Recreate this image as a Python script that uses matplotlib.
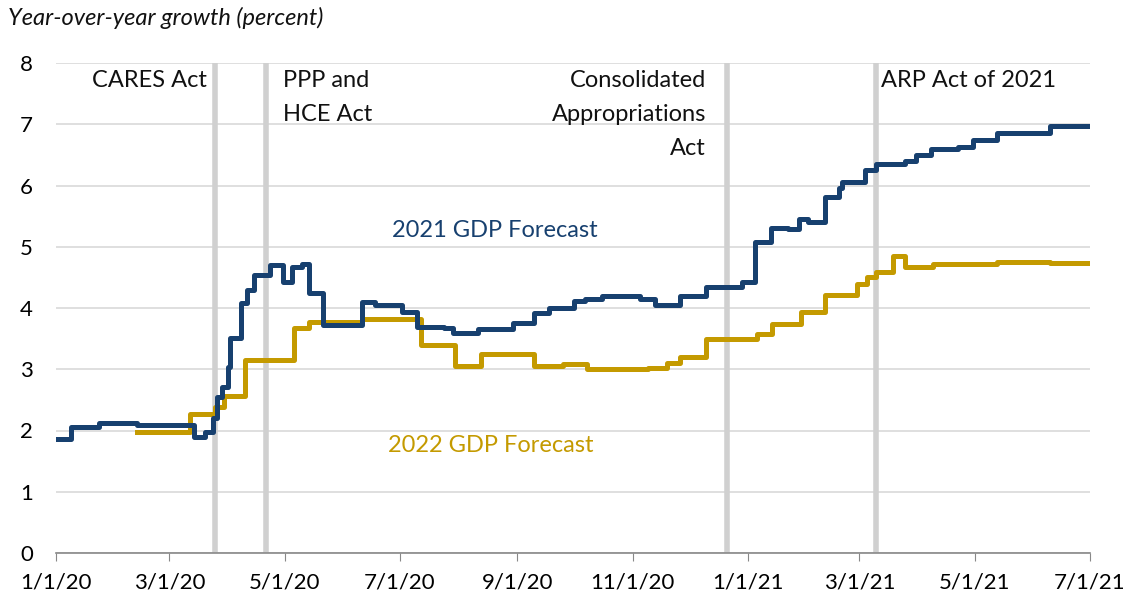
import numpy as np
import pandas as pd
import matplotlib
matplotlib.use("Agg")
import matplotlib.pyplot as plt
import matplotlib.dates as mdates

plt.rcParams['font.family'] = ['Lato', 'DejaVu Sans']

# 2021 GDP forecast: date of change, new value
dates_2021 = ['2020-01-02', '2020-01-09', '2020-01-24', '2020-02-13', '2020-03-14', '2020-03-20',
              '2020-03-24', '2020-03-26', '2020-03-29', '2020-04-01', '2020-04-02', '2020-04-08',
              '2020-04-11', '2020-04-15', '2020-04-23', '2020-04-30', '2020-05-05', '2020-05-10',
              '2020-05-14', '2020-05-21', '2020-06-11', '2020-06-18', '2020-07-02', '2020-07-10',
              '2020-07-24', '2020-07-29', '2020-08-11', '2020-08-30', '2020-09-10', '2020-09-18',
              '2020-10-01', '2020-10-07', '2020-10-16', '2020-11-05', '2020-11-13', '2020-11-26',
              '2020-12-10', '2020-12-29', '2021-01-05', '2021-01-13', '2021-01-22', '2021-01-28',
              '2021-02-02', '2021-02-11', '2021-02-18', '2021-02-20', '2021-03-04', '2021-03-10',
              '2021-03-25', '2021-03-31', '2021-04-08', '2021-04-22', '2021-04-30', '2021-05-13',
              '2021-06-10', '2021-07-01']
gdp_2021 = [1.86, 2.06, 2.12, 2.09, 1.90, 1.98,
            2.20, 2.55, 2.71, 3.04, 3.51, 4.08,
            4.29, 4.54, 4.70, 4.43, 4.67, 4.72,
            4.24, 3.72, 4.10, 4.05, 3.93, 3.69,
            3.67, 3.60, 3.65, 3.76, 3.92, 4.00,
            4.11, 4.14, 4.19, 4.14, 4.05, 4.19,
            4.35, 4.43, 5.08, 5.31, 5.29, 5.45,
            5.41, 5.82, 5.96, 6.06, 6.25, 6.35,
            6.40, 6.50, 6.59, 6.63, 6.74, 6.85,
            6.97, 6.97]

# 2022 GDP forecast
dates_2022 = ['2020-02-13', '2020-03-12', '2020-03-25', '2020-03-30', '2020-04-10', '2020-05-06',
              '2020-05-14', '2020-06-11', '2020-07-12', '2020-07-30', '2020-08-13', '2020-09-10',
              '2020-09-25', '2020-10-08', '2020-11-09', '2020-11-19', '2020-11-26', '2020-12-10',
              '2021-01-06', '2021-01-14', '2021-01-29', '2021-02-11', '2021-02-28', '2021-03-05',
              '2021-03-10', '2021-03-19', '2021-03-25', '2021-04-09', '2021-05-13', '2021-06-10',
              '2021-07-01']
gdp_2022 = [1.97, 2.27, 2.38, 2.56, 3.15, 3.67,
            3.77, 3.82, 3.40, 3.05, 3.25, 3.05,
            3.08, 3.00, 3.02, 3.10, 3.20, 3.49,
            3.58, 3.74, 3.93, 4.21, 4.40, 4.51,
            4.59, 4.85, 4.67, 4.72, 4.75, 4.74,
            4.74]

event_dates = ['2020-03-25', '2020-04-21', '2020-12-21', '2021-03-10']
event_labels = ['CARES Act', 'PPP and\nHCE Act', 'Consolidated\nAppropriations\nAct', 'ARP Act of 2021']

tick_dates = pd.date_range('2020-01-01', '2021-07-01', freq='2MS')
tick_labels = [f"{d.month}/{d.day}/{d.strftime('%y')}" for d in tick_dates]

blue = '#17406F'
gold = '#C49A00'
grey = '#D0D0D0'

fig = plt.figure(figsize=(11.29, 6.03), dpi=100)
ax = fig.add_axes([56/1129, 50/603, (1090-56)/1129, (553-63)/603])

x1 = pd.to_datetime(dates_2021)
x2 = pd.to_datetime(dates_2022)
ax.plot(x1, gdp_2021, drawstyle='steps-post', color=blue, lw=3.6, solid_joinstyle='round', zorder=4)
ax.plot(x2, gdp_2022, drawstyle='steps-post', color=gold, lw=3.6, solid_joinstyle='round', zorder=3)

for d in event_dates:
    ax.axvline(pd.Timestamp(d), color=grey, lw=4, zorder=2)

# event labels, offsets in pixels from the line
ha = ['right', 'left', 'right', 'left']
off = [-8, 17, -21, 5]
for d, lab, h, o in zip(event_dates, event_labels, ha, off):
    x = mdates.date2num(pd.Timestamp(d)) + o * 547 / 1034
    ax.text(x, 7.88, lab, ha=h, va='top', fontsize=17, color='#111111',
            linespacing=1.75, multialignment=h, zorder=5)

ax.text(pd.Timestamp('2020-08-20'), 5.26, '2021 GDP Forecast', color=blue, fontsize=17,
        ha='center', va='center')
ax.text(pd.Timestamp('2020-08-18'), 1.75, '2022 GDP Forecast', color=gold, fontsize=17,
        ha='center', va='center')

ax.set_ylim(0, 8)
ax.set_yticks(range(0, 9))
ax.set_xlim(pd.Timestamp('2020-01-01'), pd.Timestamp('2021-07-01'))
ax.set_xticks(tick_dates)
ax.set_xticklabels(tick_labels)
ax.grid(axis='y', color='#D9D9D9', lw=1.2, zorder=1)
ax.set_axisbelow(True)
for s in ['top', 'right', 'left']:
    ax.spines[s].set_visible(False)
ax.spines['bottom'].set_color('#888888')
ax.spines['bottom'].set_linewidth(1.2)
ax.tick_params(axis='y', length=0, labelsize=16, pad=26)
ax.tick_params(axis='x', length=6, color='#888888', labelsize=16, pad=8, direction='out')
for t in ax.get_yticklabels():
    t.set_horizontalalignment('left')

fig.text(8/1129, 1 - 18/603, 'Year-over-year growth (percent)', fontsize=17, style='italic',
         ha='left', va='center', color='#111111')

fig.savefig('out.png', dpi=100)
